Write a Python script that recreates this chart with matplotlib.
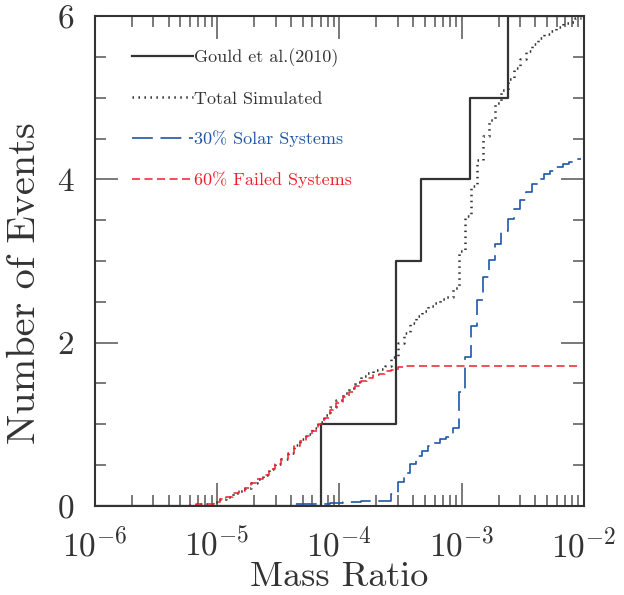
import numpy as np
import matplotlib
matplotlib.use("Agg")
import matplotlib.pyplot as plt

plt.rcParams['font.family'] = 'cmr10'
plt.rcParams['mathtext.fontset'] = 'cm'
plt.rcParams['axes.formatter.use_mathtext'] = True
plt.rcParams['axes.unicode_minus'] = False
plt.rcParams['lines.scale_dashes'] = False

# Gould et al. (2010) planet mass ratios
gould_q = [7.1e-5, 2.9e-4, 2.9e-4, 4.6e-4, 1.16e-3, 2.37e-3]

# simulated cumulative counts, bins of 0.05 dex in log q
log_edges = np.linspace(-5.275, -2.025, 66)
failed = [0.00, 0.01, 0.02, 0.02, 0.03, 0.045, 0.08, 0.11, 0.155, 0.18,
          0.22, 0.28, 0.33, 0.38, 0.45, 0.52, 0.58, 0.65, 0.73, 0.80,
          0.86, 0.92, 1.00, 1.08, 1.17, 1.26, 1.33, 1.40, 1.47, 1.53,
          1.57, 1.60, 1.62, 1.65, 1.67, 1.70, 1.71, 1.72, 1.72, 1.72,
          1.72, 1.72, 1.72, 1.72, 1.72, 1.72, 1.72, 1.72, 1.72, 1.72,
          1.72, 1.72, 1.72, 1.72, 1.72, 1.72, 1.72, 1.72, 1.72, 1.72,
          1.72, 1.72, 1.72, 1.72, 1.72]
solar = [0, 0, 0, 0, 0, 0, 0, 0, 0, 0,
         0, 0, 0, 0, 0, 0, 0, 0, 0.02, 0.02,
         0.02, 0.03, 0.03, 0.03, 0.04, 0.04, 0.05, 0.05, 0.05, 0.06,
         0.06, 0.06, 0.06, 0.06, 0.15, 0.29, 0.41, 0.52, 0.61, 0.67,
         0.73, 0.77, 0.82, 0.84, 0.95, 1.40, 1.83, 2.20, 2.52, 2.81,
         3.01, 3.21, 3.37, 3.51, 3.64, 3.75, 3.85, 3.94, 4.01, 4.06,
         4.10, 4.15, 4.19, 4.21, 4.25]
total = [0.00, 0.01, 0.02, 0.02, 0.03, 0.045, 0.08, 0.11, 0.155, 0.18,
         0.22, 0.28, 0.33, 0.38, 0.45, 0.52, 0.58, 0.65, 0.75, 0.82,
         0.88, 0.95, 1.03, 1.11, 1.21, 1.30, 1.38, 1.45, 1.52, 1.59,
         1.63, 1.66, 1.68, 1.71, 1.82, 1.99, 2.12, 2.24, 2.33, 2.39,
         2.45, 2.49, 2.54, 2.56, 2.67, 3.12, 3.55, 3.92, 4.24, 4.53,
         4.73, 4.93, 5.09, 5.23, 5.36, 5.47, 5.57, 5.66, 5.73, 5.78,
         5.82, 5.87, 5.91, 5.93, 5.97]

labels = ["Gould et al.(2010)", "Total Simulated",
          "30% Solar Systems", "60% Failed Systems"]
blue = '#1f56a8'
red = '#f0202a'
dark = '#333333'

fig = plt.figure(figsize=(6.24, 5.95), dpi=100)
ax = fig.add_axes([0.1522, 0.1496, 0.7837, 0.8235])

qe = 10 ** log_edges
gq = np.sort(gould_q)
gn = np.arange(1, len(gq) + 1)
ax.step(np.r_[1e-6, gq, 1e-2], np.r_[0, gn, gn[-1]], where='post',
        color=dark, lw=1.6, label=labels[0])
ax.step(qe, np.r_[total, total[-1]], where='post', color=dark, lw=1.8,
        dashes=(1.1, 3.2), dash_capstyle='butt', label=labels[1])
ax.step(qe, np.r_[solar, solar[-1]], where='post', color=blue, lw=1.2,
        dashes=(15, 5.5), label=labels[2])
ax.step(qe, np.r_[failed, failed[-1]], where='post', color=red, lw=1.1,
        dashes=(5.8, 3.2), label=labels[3])

ax.set_xscale('log')
ax.set_xlim(1e-6, 1e-2)
ax.set_ylim(0, 6)
ax.set_yticks([0, 2, 4, 6])
ax.set_yticks(np.arange(0, 6.01, 0.5), minor=True)

for s in ax.spines.values():
    s.set_linewidth(1.5)
    s.set_color(dark)
    s.set_zorder(5)
ax.tick_params(which='both', direction='in', top=True, right=True,
               color='#555555', width=1.1)
ax.tick_params(which='major', length=16.5, pad=15, labelsize=24,
               labelcolor=dark)
ax.tick_params(which='minor', length=8)

ax.set_xlabel("Mass Ratio", fontsize=26, color=dark)
ax.xaxis.set_label_coords(0.5, -0.114)
ax.set_ylabel("Number of Events", fontsize=29, color=dark)
ax.yaxis.set_label_coords(-0.107, 0.455)

leg = ax.legend(loc='upper left', bbox_to_anchor=(0.075, 0.934),
                frameon=False, fontsize=13, handlelength=3.38,
                handletextpad=0.05, labelspacing=1.33, borderaxespad=0,
                borderpad=0)
for t, c in zip(leg.get_texts(), [dark, dark, blue, red]):
    t.set_color(c)

fig.savefig("out.png", dpi=100)
